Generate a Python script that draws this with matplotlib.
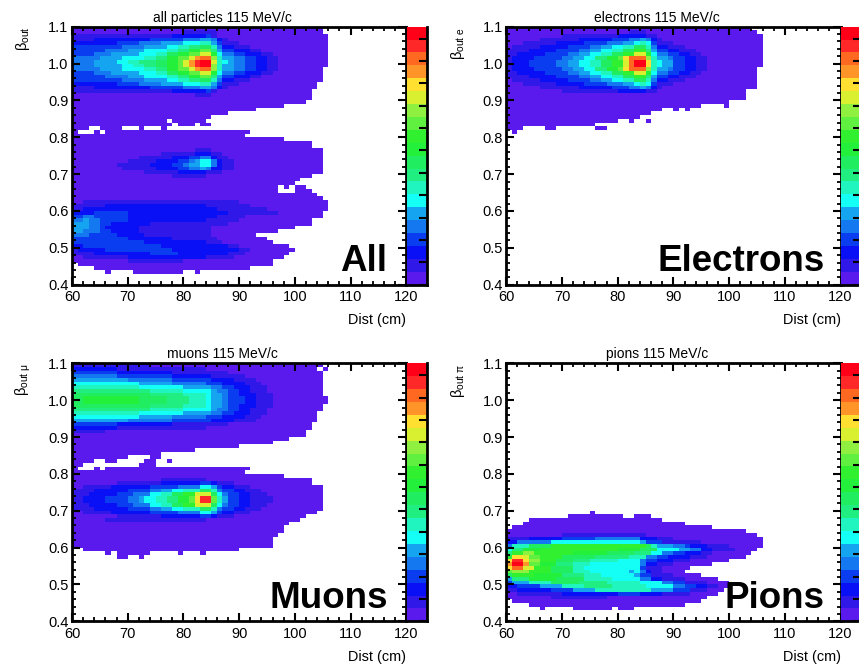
import numpy as np
import matplotlib
matplotlib.use("Agg")
import matplotlib.pyplot as plt
from matplotlib.colors import ListedColormap, BoundaryNorm
from matplotlib.ticker import MultipleLocator, FormatStrFormatter

plt.rcParams['font.family'] = ['Liberation Sans', 'DejaVu Sans']
plt.rcParams['mathtext.fontset'] = 'custom'
plt.rcParams['mathtext.rm'] = 'Liberation Sans'
plt.rcParams['mathtext.it'] = 'Liberation Sans'
plt.rcParams['mathtext.bf'] = 'Liberation Sans:bold'

E = -1  # empty bin
# Each row: lower bin edge of beta -> runs of (colour level, run end in cm), starting at 60 cm
all_rows = {
 1.09: [(0,105)],
 1.08: [(0,80),(1,86),(0,105)],
 1.07: [(1,78),(2,84),(3,85),(1,86),(0,106)],
 1.06: [(1,64),(2,74),(3,80),(4,83),(5,85),(4,86),(2,87),(1,88),(0,106)],
 1.05: [(2,68),(3,72),(4,76),(5,80),(6,83),(7,85),(5,86),(3,87),(1,90),(0,106)],
 1.04: [(3,69),(4,73),(5,77),(6,79),(7,81),(8,83),(9,85),(7,86),(4,87),(2,89),(1,92),(0,106)],
 1.03: [(3,66),(4,70),(5,73),(6,77),(7,79),(8,81),(10,83),(12,85),(8,86),(5,87),(3,89),(2,92),(1,94),(0,106)],
 1.02: [(3,64),(4,67),(5,72),(6,75),(7,77),(9,79),(10,81),(12,83),(14,85),(10,86),(6,87),(4,89),(3,91),(2,94),(1,96),(0,106)],
 1.01: [(4,65),(5,69),(6,73),(7,75),(8,77),(10,79),(12,81),(14,82),(16,83),(17,85),(13,86),(7,87),(5,89),(4,91),(3,93),(2,95),(1,97),(0,106)],
 1.00: [(4,64),(5,68),(6,70),(7,72),(8,75),(9,77),(10,79),(12,80),(14,81),(16,82),(18,83),(19,85),(14,86),(7,87),(6,88),(5,89),(4,91),(3,93),(2,95),(1,97),(0,106)],
 0.99: [(4,64),(5,69),(6,71),(7,73),(8,75),(9,77),(10,79),(12,80),(14,81),(16,82),(18,83),(19,85),(13,86),(7,87),(5,89),(4,91),(3,93),(2,95),(1,97),(0,106)],
 0.98: [(4,65),(5,69),(6,73),(7,75),(8,77),(10,79),(12,81),(14,82),(16,83),(17,85),(13,86),(7,87),(5,89),(4,91),(3,93),(2,95),(1,97),(0,105)],
 0.97: [(3,64),(4,67),(5,72),(6,75),(7,77),(9,79),(10,81),(12,83),(14,85),(10,86),(6,87),(4,89),(3,91),(2,94),(1,96),(0,105)],
 0.96: [(3,66),(4,70),(5,73),(6,77),(7,79),(8,81),(10,83),(12,85),(8,86),(5,87),(3,89),(2,92),(1,94),(0,105)],
 0.95: [(3,69),(4,73),(5,77),(6,79),(7,81),(8,83),(9,85),(7,86),(4,87),(2,89),(1,92),(0,105)],
 0.94: [(2,68),(3,72),(4,76),(5,80),(6,83),(7,85),(5,86),(3,87),(1,90),(0,104)],
 0.93: [(1,64),(2,74),(3,80),(4,83),(5,85),(4,86),(2,87),(1,88),(0,104)],
 0.92: [(1,78),(2,84),(3,85),(1,86),(0,103)],
 0.91: [(0,82),(1,85),(0,103)],
 0.90: [(0,103)], 0.89: [(0,102)], 0.88: [(0,98)], 0.87: [(0,93)],
 0.86: [(0,88)], 0.85: [(0,85)], 0.84: [(0,77),(E,78),(0,84)],
 0.83: [(0,78),(E,79),(0,82),(E,83),(0,85)],
 0.82: [(0,63),(E,65),(0,69),(E,72),(0,73),(E,76),(0,77),(E,87)],
 0.81: [(0,61),(E,64),(0,65),(E,66),(0,92)],
 0.80: [(0,91)], 0.79: [(0,98)], 0.78: [(0,103)], 0.77: [(0,103)], 0.76: [(0,82),(1,85),(0,105)],
 0.75: [(0,76),(1,82),(2,85),(1,87),(0,105)],
 0.74: [(0,72),(1,78),(2,81),(3,83),(4,85),(2,86),(1,88),(0,105)],
 0.73: [(0,70),(1,75),(2,79),(3,81),(4,82),(5,83),(6,85),(4,86),(2,87),(1,89),(0,105)],
 0.72: [(0,68),(1,74),(2,78),(3,80),(4,81),(5,83),(6,85),(4,86),(2,87),(1,89),(0,105)],
 0.71: [(0,69),(1,75),(2,79),(3,81),(4,83),(5,84),(4,85),(2,87),(1,89),(0,105)],
 0.70: [(0,73),(1,79),(2,84),(1,87),(0,105)],
 0.69: [(0,78),(1,84),(0,103)],
 0.68: [(0,101)], 0.67: [(0,100)],
 0.66: [(0,97),(E,98),(0,99),(E,100),(0,102)],
 0.65: [(0,97),(E,100),(0,103)],
 0.64: [(0,104)], 0.63: [(0,105)],
 0.62: [(0,62),(1,90),(0,106)],
 0.61: [(1,66),(2,84),(1,92),(0,106)],
 0.60: [(1,62),(2,86),(1,95),(0,106)],
 0.59: [(2,64),(3,70),(2,88),(1,97),(0,105)],
 0.58: [(3,62),(4,64),(3,70),(2,86),(1,91),(0,105)],
 0.57: [(4,62),(5,63),(4,65),(3,70),(2,84),(1,90),(0,103)],
 0.56: [(5,63),(4,65),(3,67),(2,74),(1,88),(0,103)],
 0.55: [(5,63),(4,65),(3,66),(2,72),(1,85),(0,100)],
 0.54: [(5,62),(4,65),(3,67),(2,72),(1,85),(0,97)],
 0.53: [(4,63),(3,68),(2,73),(1,85),(0,93)],
 0.52: [(3,70),(2,78),(1,86),(0,95)],
 0.51: [(3,73),(2,84),(1,87),(0,96)],
 0.50: [(2,62),(3,76),(2,88),(1,90),(0,99)],
 0.49: [(1,61),(2,66),(3,78),(2,90),(1,92),(0,100)],
 0.48: [(1,64),(2,74),(3,79),(2,88),(1,91),(0,99)],
 0.47: [(0,62),(1,70),(2,84),(1,89),(0,98)],
 0.46: [(0,70),(1,80),(0,96)],
 0.45: [(E,61),(0,96)],
 0.44: [(E,64),(0,92)],
 0.43: [(E,66),(0,67),(E,71),(0,80),(E,82),(0,83)],
}
electron_rows = {
 1.09: [(0,104)],
 1.08: [(0,82),(1,85),(0,105)],
 1.07: [(0,70),(1,80),(2,85),(1,87),(0,106)],
 1.06: [(0,66),(1,73),(2,79),(3,82),(4,84),(5,85),(4,86),(2,87),(1,88),(0,106)],
 1.05: [(0,63),(1,69),(2,74),(3,78),(4,81),(5,83),(6,84),(7,85),(6,86),(3,87),(1,90),(0,106)],
 1.04: [(0,61),(1,66),(2,71),(3,75),(4,77),(5,79),(6,81),(7,83),(9,85),(7,86),(4,87),(2,89),(1,92),(0,106)],
 1.03: [(1,64),(2,69),(3,73),(4,75),(5,77),(6,79),(7,81),(9,83),(11,85),(8,86),(5,87),(3,89),(2,91),(1,94),(0,106)],
 1.02: [(1,62),(2,67),(3,71),(4,73),(5,75),(6,77),(7,79),(9,81),(11,83),(14,85),(10,86),(6,87),(4,89),(3,91),(2,93),(1,95),(0,106)],
 1.01: [(1,61),(2,65),(3,70),(4,72),(5,74),(6,76),(8,78),(10,80),(12,81),(15,82),(17,85),(13,86),(7,87),(5,89),(4,90),(3,92),(2,94),(1,96),(0,106)],
 1.00: [(1,61),(2,64),(3,69),(4,71),(5,73),(6,75),(7,77),(9,79),(11,81),(14,82),(17,83),(19,85),(15,86),(7,87),(6,88),(5,90),(3,92),(2,94),(1,96),(0,106)],
 0.99: [(1,61),(2,64),(3,69),(4,71),(5,73),(6,75),(7,77),(9,79),(11,81),(14,82),(17,83),(19,85),(15,86),(7,87),(6,88),(5,90),(3,92),(2,94),(1,96),(0,106)],
 0.98: [(1,61),(2,65),(3,70),(4,72),(5,74),(6,76),(8,78),(10,80),(12,81),(15,82),(17,85),(13,86),(7,87),(5,89),(4,90),(3,92),(2,94),(1,96),(0,105)],
 0.97: [(1,62),(2,67),(3,71),(4,73),(5,75),(6,77),(7,79),(9,81),(11,83),(14,85),(10,86),(6,87),(4,89),(3,91),(2,93),(1,95),(0,105)],
 0.96: [(1,64),(2,69),(3,73),(4,75),(5,77),(6,79),(7,81),(9,83),(11,85),(8,86),(5,87),(3,89),(2,91),(1,94),(0,105)],
 0.95: [(0,61),(1,66),(2,71),(3,75),(4,77),(5,79),(6,81),(7,83),(9,85),(7,86),(4,87),(2,89),(1,92),(0,105)],
 0.94: [(0,63),(1,69),(2,74),(3,78),(4,81),(5,83),(6,84),(7,85),(6,86),(3,87),(1,90),(0,105)],
 0.93: [(0,66),(1,73),(2,79),(3,82),(4,84),(5,85),(4,86),(2,87),(1,88),(0,105)],
 0.92: [(0,70),(1,80),(2,85),(1,87),(0,103)],
 0.91: [(0,103)], 0.90: [(0,103)], 0.89: [(0,100)],
 0.88: [(0,95),(E,99),(0,100)],
 0.87: [(0,88),(E,90),(0,91),(E,92),(0,93)],
 0.86: [(0,86)], 0.85: [(0,84)],
 0.84: [(0,80),(E,82),(0,83),(E,85),(0,86)],
 0.83: [(0,76)],
 0.82: [(0,63),(E,67),(0,69),(E,76),(0,78)],
 0.81: [(E,61),(0,62)],
}
muon_rows = {
 1.09: [(1,74),(0,105)],
 1.08: [(2,68),(1,84),(0,104),(E,105),(0,106)],
 1.07: [(3,68),(2,78),(1,88),(0,105)],
 1.06: [(4,68),(3,78),(2,85),(1,91),(0,105)],
 1.05: [(5,70),(4,78),(3,85),(2,89),(1,93),(0,105)],
 1.04: [(6,72),(5,78),(4,84),(3,87),(2,91),(1,94),(0,105)],
 1.03: [(7,72),(6,80),(5,85),(4,87),(3,89),(2,92),(1,95),(0,105)],
 1.02: [(8,74),(7,80),(6,85),(5,86),(4,88),(3,90),(2,92),(1,95),(0,105)],
 1.01: [(9,74),(8,80),(7,84),(6,85),(5,87),(4,88),(3,90),(2,93),(1,96),(0,105)],
 1.00: [(9,62),(10,72),(9,77),(8,81),(7,84),(6,85),(5,87),(4,88),(3,91),(2,93),(1,96),(0,106)],
 0.99: [(9,62),(10,72),(9,77),(8,81),(7,84),(6,85),(5,87),(4,88),(3,91),(2,93),(1,96),(0,106)],
 0.98: [(9,74),(8,80),(7,84),(6,85),(5,87),(4,88),(3,90),(2,93),(1,96),(0,105)],
 0.97: [(8,74),(7,80),(6,85),(5,86),(4,88),(3,90),(2,92),(1,95),(0,105)],
 0.96: [(7,72),(6,80),(5,85),(4,87),(3,89),(2,92),(1,95),(0,104)],
 0.95: [(6,72),(5,78),(4,84),(3,87),(2,91),(1,94),(0,104)],
 0.94: [(5,70),(4,78),(3,85),(2,89),(1,93),(0,104)],
 0.93: [(3,68),(2,78),(1,88),(0,103)],
 0.92: [(2,68),(1,84),(0,103)],
 0.91: [(1,66),(0,102)],
 0.90: [(0,102)], 0.89: [(0,99)], 0.88: [(0,96)], 0.87: [(0,90)], 0.86: [(0,82)], 0.85: [(0,76)],
 0.84: [(0,70),(E,74),(0,76)],
 0.83: [(0,64),(E,66),(0,68),(E,73),(0,75),(E,77),(0,78)],
 0.82: [(0,62),(E,72),(0,75),(E,87)],
 0.81: [(0,61),(E,64),(0,65),(E,66),(0,92)],
 0.80: [(0,91)], 0.79: [(0,98)],
 0.78: [(0,76),(1,84),(0,103)],
 0.77: [(0,68),(1,76),(2,83),(3,85),(2,86),(1,89),(0,103)],
 0.76: [(0,62),(1,67),(2,74),(3,79),(4,83),(6,85),(5,86),(3,87),(2,89),(1,92),(0,105)],
 0.75: [(1,64),(2,70),(3,74),(4,76),(5,78),(6,80),(7,83),(9,85),(7,86),(4,87),(3,89),(2,91),(1,94),(0,105)],
 0.74: [(1,63),(2,68),(3,71),(4,74),(6,76),(7,78),(9,80),(11,82),(14,85),(9,86),(6,87),(4,88),(3,90),(2,92),(1,95),(0,105)],
 0.73: [(1,62),(2,66),(3,70),(4,72),(5,73),(6,75),(7,77),(8,79),(10,81),(12,82),(15,83),(18,85),(12,86),(7,87),(5,88),(3,90),(2,92),(1,96),(0,105)],
 0.72: [(1,62),(2,66),(3,70),(4,72),(5,73),(6,75),(7,77),(8,79),(10,81),(12,82),(15,83),(18,85),(12,86),(7,87),(5,88),(3,90),(2,92),(1,96),(0,105)],
 0.71: [(1,63),(2,68),(3,71),(4,74),(6,76),(7,78),(9,80),(11,82),(14,85),(9,86),(6,87),(4,88),(3,90),(2,92),(1,95),(0,105)],
 0.70: [(1,64),(2,70),(3,74),(4,76),(5,78),(6,80),(7,83),(9,85),(7,86),(4,87),(3,89),(2,91),(1,94),(0,105)],
 0.69: [(0,62),(1,67),(2,74),(3,79),(4,83),(6,85),(5,86),(3,87),(2,89),(1,92),(0,104)],
 0.68: [(0,68),(1,76),(2,83),(3,85),(2,86),(1,89),(0,102)],
 0.67: [(0,66),(1,84),(0,101)],
 0.66: [(0,99)], 0.65: [(0,98)], 0.64: [(0,98)], 0.63: [(0,97)], 0.62: [(0,96)], 0.61: [(0,96)], 0.60: [(0,96)],
 0.59: [(E,62),(0,90)],
 0.58: [(E,66),(0,67),(E,68),(0,74),(E,79),(0,80),(E,83),(0,84)],
 0.57: [(E,68),(0,70),(E,72),(0,73)],
}
pion_rows = {
 0.70: [],
 0.69: [(E,75),(0,76)],
 0.68: [(E,71),(0,81),(E,83),(0,86)],
 0.67: [(E,64),(0,88)],
 0.66: [(E,63),(0,92)],
 0.65: [(E,61),(0,97)],
 0.64: [(0,103)],
 0.63: [(0,70),(1,85),(0,105)],
 0.62: [(1,64),(2,70),(3,76),(4,84),(2,87),(1,90),(0,106)],
 0.61: [(2,62),(4,68),(6,84),(5,85),(3,88),(1,95),(0,106)],
 0.60: [(4,61),(7,64),(9,68),(11,85),(9,86),(7,87),(5,90),(4,92),(3,93),(2,96),(1,100),(0,106)],
 0.59: [(6,61),(8,63),(10,66),(11,80),(10,84),(9,87),(6,91),(5,93),(4,95),(2,97),(1,101),(0,105)],
 0.58: [(8,61),(11,63),(13,65),(11,72),(10,78),(9,83),(8,86),(6,88),(4,90),(3,92),(2,95),(1,97),(0,104)],
 0.57: [(10,61),(15,63),(14,64),(12,66),(11,70),(9,76),(8,82),(7,85),(4,87),(3,89),(2,93),(1,96),(0,103)],
 0.56: [(15,61),(18,63),(15,64),(13,66),(11,69),(9,72),(8,75),(7,80),(6,84),(4,85),(3,87),(2,90),(1,93),(0,100)],
 0.55: [(16,61),(19,63),(16,64),(12,66),(10,69),(8,72),(7,75),(6,84),(4,85),(2,87),(1,90),(0,97)],
 0.54: [(15,61),(17,63),(14,65),(11,68),(9,72),(7,74),(6,84),(3,85),(1,88),(0,93)],
 0.53: [(12,61),(13,64),(11,68),(9,72),(7,75),(6,82),(5,83),(6,84),(4,85),(2,86),(1,88),(0,92)],
 0.52: [(9,61),(11,65),(10,70),(8,74),(7,77),(6,83),(5,84),(3,86),(1,90),(0,95)],
 0.51: [(5,61),(8,64),(10,69),(9,74),(7,79),(6,84),(4,86),(2,88),(1,92),(0,98)],
 0.50: [(3,61),(5,64),(7,68),(9,73),(8,78),(7,84),(6,88),(4,90),(3,92),(1,96),(0,100)],
 0.49: [(2,62),(3,66),(5,70),(7,74),(8,79),(7,85),(6,90),(4,92),(3,94),(2,96),(1,98),(0,100)],
 0.48: [(1,62),(2,68),(3,72),(5,76),(7,86),(5,90),(3,93),(1,96),(0,99)],
 0.47: [(0,62),(1,70),(2,80),(3,84),(2,88),(1,93),(0,98)],
 0.46: [(0,68),(1,78),(0,96)],
 0.45: [(E,61),(0,95)],
 0.44: [(E,64),(0,92)],
 0.43: [(E,66),(0,67),(E,72),(0,79),(E,80),(0,83)],
}

titles = ['all particles 115 MeV/c', 'electrons 115 MeV/c', 'muons 115 MeV/c', 'pions 115 MeV/c']
ylabels = [r'$\mathrm{\beta}_{\mathrm{out}}$', r'$\mathrm{\beta}_{\mathrm{out\ e}}$',
           r'$\mathrm{\beta}_{\mathrm{out\ \mu}}$', r'$\mathrm{\beta}_{\mathrm{out\ \pi}}$']
names = ['All', 'Electrons', 'Muons', 'Pions']
name_x = [116.5, 117.1, 116.8, 117.1]
rows_by_panel = [all_rows, electron_rows, muon_rows, pion_rows]
palette = ['#5a1aee', '#3018e8', '#0a10f5', '#0a3cf0', '#1478f0', '#14a4f0', '#14fff5', '#20f5c0',
           '#20ee80', '#20ee60', '#22f03a', '#30f030', '#60f040', '#90f040', '#d8f030', '#ffe030',
           '#ff9428', '#ff6820', '#ff2828', '#ff0018']
x_edges = np.arange(60, 121)

cmap = ListedColormap(palette)
norm = BoundaryNorm(np.arange(21) - 0.5, 20)


def grid(rows):
    keys = sorted(rows)
    z = np.full((len(keys), len(x_edges) - 1), np.nan)
    for i, k in enumerate(keys):
        start = 60
        for level, end in rows[k]:
            if level >= 0:
                z[i, start - 60:end - 60] = level
            start = end
    return np.array(keys + [1.10]), np.ma.masked_invalid(z)


W, H = 859, 666
fig = plt.figure(figsize=(W / 100, H / 100), dpi=100)
lefts = [72, 506.3, 72, 506.3]
tops = [26.7, 26.7, 363.3, 363.3]
for i in range(4):
    l, t = lefts[i], tops[i]
    ax = fig.add_axes([l / W, 1 - (t + 258) / H, 334.3 / W, 258 / H])
    y_edges, z = grid(rows_by_panel[i])
    ax.pcolormesh(x_edges, y_edges, z, cmap=cmap, norm=norm, linewidth=0, rasterized=True)
    ax.set_xlim(60, 120)
    ax.set_ylim(0.4, 1.1)
    ax.xaxis.set_major_locator(MultipleLocator(10))
    ax.xaxis.set_minor_locator(MultipleLocator(2))
    ax.yaxis.set_major_locator(MultipleLocator(0.1))
    ax.yaxis.set_minor_locator(MultipleLocator(0.02))
    ax.yaxis.set_major_formatter(FormatStrFormatter('%.1f'))
    ax.tick_params(which='major', direction='in', top=True, right=True, length=6, width=1.5, labelsize=10.5)
    ax.tick_params(which='minor', direction='in', top=True, right=True, length=3, width=1.3)
    ax.tick_params(axis='x', which='major', pad=4)
    ax.tick_params(axis='y', which='major', pad=2.5)
    for s in ax.spines.values():
        s.set_linewidth(2.0)
    ax.text(0.45, 1.008, titles[i], transform=ax.transAxes, ha='center', va='bottom', fontsize=10)
    ax.annotate('Dist (cm)', xy=(1, 0), xycoords='axes fraction', xytext=(0, -20.5), textcoords='offset points',
                ha='right', va='top', fontsize=10.4)
    ax.annotate(ylabels[i], xy=(0, 1), xycoords='axes fraction', xytext=(-35, 0), textcoords='offset points',
                ha='center', va='top', rotation=90, fontsize=10.5)
    ax.text(name_x[i], 0.437, names[i], ha='right', va='baseline', fontsize=26.5, fontweight='bold', zorder=5)

    cax = fig.add_axes([(l + 335) / W, 1 - (t + 258) / H, 20 / W, 258 / H])
    cax.pcolormesh([0, 1], np.arange(21), np.arange(20).reshape(-1, 1), cmap=cmap, norm=norm, linewidth=0)
    cax.set_xlim(0, 1)
    cax.set_ylim(0, 20)
    cax.set_xticks([])
    cax.yaxis.tick_right()
    cax.set_yticks(np.arange(0, 20, 1.734))
    cax.tick_params(axis='y', direction='in', length=5.5, width=1.5, labelright=False)
    for name, s in cax.spines.items():
        s.set_linewidth(2.0)
        s.set_visible(name in ('right', 'bottom'))

fig.savefig('out.png', dpi=100)
